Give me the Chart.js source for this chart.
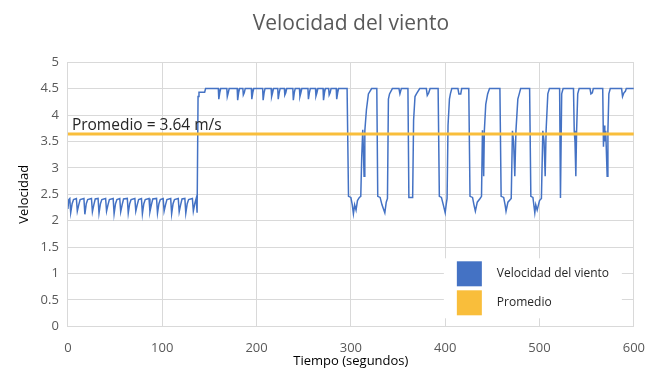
<!DOCTYPE html>
<html lang="es">
<head>
    <meta charset="UTF-8">
    <title>Velocidad del viento</title>
    <script src="https://cdn.jsdelivr.net/npm/chart.js"></script>
    <style>
        html, body { margin: 0; padding: 0; background: #fff; }
        #wrap { width: 659px; height: 369px; }
    </style>
</head>
<body>
<div id="wrap"><canvas id="vientoChart" width="659" height="369"></canvas></div>
<script>
    // tiempo (s) y velocidad (m/s)
    const tiempo = [
        0, 1,
        2, 3, 4.5, 6,   9, 10, 11.5, 13,   17, 18, 19.5, 21,   25, 26, 27.5, 29,
        32, 33, 34.5, 36,   40, 41, 42.5, 44,   48, 49, 50.5, 52,   55, 56, 57.5, 59,
        63, 64, 65.5, 67,   71, 72, 73.5, 75,   78, 79, 80.5, 82,   86, 87, 88.5, 90,
        94, 95, 96.5, 98,   101, 102, 103.5, 105,   109, 110, 111.5, 113,   117, 118, 119.5, 121,
        124, 125, 126.5, 128,   132, 133, 134.5, 136,   137, 138, 139, 145, 146,
        159.5, 160, 161, 162,   168.5, 169, 170, 171,   179.5, 180, 181, 182,   185.5, 186, 187, 188,
        194.5, 195, 196, 197,   206.5, 207, 208, 209,   215.5, 216, 217, 218,   222.5, 223, 224, 225,
        229.5, 230, 231, 232,   238.5, 239, 240, 241,   245.5, 246, 247, 248,   254.5, 255, 256, 257,
        262.5, 263, 264, 265,   270.5, 271, 272, 273,   276.5, 277, 278, 279,   284.5, 285, 286, 287,
        296, 297.5, 300, 301.5, 302.7, 304, 305.5, 307, 309, 310.5, 311.5, 312.6, 313.2, 314, 314.8, 316.5, 318.6, 322,
        327.5, 328.5, 331, 333, 336, 337.5, 338.8, 339.8, 341, 344,
        351, 352, 353.5,
        360.5, 361.5, 365.5, 366.5, 368, 369.5, 373,
        380, 381, 382.5, 384,
        392.5, 393.8, 396, 398, 400, 401, 402, 403, 404.5, 405.5, 407,
        413.5, 414.5, 416.5, 417.5,
        425, 426.3, 429, 430.5, 432, 434, 437, 438.5, 439.5, 440.2, 440.8, 441.5, 443, 445, 447,
        458, 459.3, 462, 463.5, 464.5, 466.5, 470, 471.3, 472.5, 473.8, 475, 477, 478.5, 480,
        489.5, 490.8, 493, 495, 496, 497.5, 500, 502, 503.5, 504.8, 506, 507, 508.8, 510.5,
        521.3, 522.2, 523.5, 525,
        536, 536.8, 537.6, 538.5, 539.3, 540.5, 542,
        553.5, 554.5, 556, 557,
        567, 567.8, 568.5, 569.2, 570.2, 571.7, 572.5, 573.5, 575,
        587, 588, 589.5, 591, 592, 600
    ];
    const velocidad = [
        2.22, 2.4,
        2.42, 2.15, 2.32, 2.4,   2.42, 2.18, 2.3, 2.4,   2.42, 2.12, 2.32, 2.4,   2.42, 2.17, 2.3, 2.41,
        2.42, 2.14, 2.32, 2.4,   2.42, 2.18, 2.3, 2.4,   2.42, 2.13, 2.32, 2.4,   2.42, 2.17, 2.3, 2.41,
        2.42, 2.14, 2.32, 2.4,   2.42, 2.18, 2.3, 2.4,   2.42, 2.13, 2.32, 2.4,   2.42, 2.17, 2.3, 2.41,
        2.42, 2.14, 2.32, 2.4,   2.42, 2.18, 2.3, 2.4,   2.42, 2.13, 2.32, 2.4,   2.42, 2.17, 2.3, 2.41,
        2.42, 2.14, 2.32, 2.4,   2.42, 2.18, 2.32, 2.42,   2.15, 4.35, 4.43, 4.43, 4.5,
        4.5, 4.3, 4.42, 4.5,   4.5, 4.35, 4.42, 4.5,   4.5, 4.28, 4.42, 4.5,   4.5, 4.38, 4.42, 4.5,
        4.5, 4.3, 4.42, 4.5,   4.5, 4.28, 4.42, 4.5,   4.5, 4.35, 4.42, 4.5,   4.5, 4.3, 4.42, 4.5,
        4.5, 4.38, 4.42, 4.5,   4.5, 4.28, 4.42, 4.5,   4.5, 4.35, 4.42, 4.5,   4.5, 4.3, 4.42, 4.5,
        4.5, 4.36, 4.42, 4.5,   4.5, 4.28, 4.42, 4.5,   4.5, 4.38, 4.42, 4.5,   4.5, 4.3, 4.42, 4.5,
        4.5, 2.46, 2.44, 2.3, 2.13, 2.3, 2.2, 2.38, 2.44, 2.46, 3.2, 3.72, 3.4, 2.84, 3.7, 4.1, 4.4, 4.5,
        4.5, 2.46, 2.44, 2.3, 2.15, 2.35, 2.42, 4.3, 4.4, 4.5,
        4.5, 4.4, 4.5,
        4.5, 2.44, 2.44, 3.9, 4.35, 4.4, 4.5,
        4.5, 4.37, 4.42, 4.5,
        4.5, 2.46, 2.44, 2.3, 2.15, 2.3, 2.42, 3.8, 4.3, 4.4, 4.5,
        4.5, 4.4, 4.4, 4.5,
        4.5, 2.46, 2.44, 2.3, 2.18, 2.35, 2.42, 2.46, 3.71, 3.4, 2.84, 3.7, 4.2, 4.4, 4.5,
        4.5, 2.46, 2.44, 2.3, 2.18, 2.35, 2.42, 3.7, 3.5, 2.84, 3.7, 4.3, 4.4, 4.5,
        4.5, 2.46, 2.44, 2.15, 2.3, 2.2, 2.38, 2.42, 3.7, 3.5, 2.84, 3.72, 4.4, 4.5,
        4.5, 2.43, 4.4, 4.5,
        4.5, 3.7, 3.5, 2.84, 3.7, 4.4, 4.5,
        4.5, 4.4, 4.42, 4.5,
        4.5, 3.4, 3.8, 3.5, 3.7, 2.84, 3.7, 4.4, 4.5,
        4.5, 4.35, 4.42, 4.45, 4.5, 4.5
    ];
    const promedioTiempo = [0, 600];
    const promedioValor = [3.64, 3.64];
    const etiquetaPromedio = 'Promedio = 3.64 m/s';

    const azul = '#4472C4';
    const naranja = '#F9BE3B';
    const fuente = '"Open Sans", sans-serif';

    // texto "Promedio = ..." encima de la linea
    const textoPromedio = {
        id: 'textoPromedio',
        afterDatasetsDraw(chart) {
            const c = chart.ctx;
            const x = chart.scales.x.getPixelForValue(promedioTiempo[0]);
            const y = chart.scales.y.getPixelForValue(promedioValor[0]);
            c.save();
            c.font = '15.5px ' + fuente;
            c.fillStyle = '#262626';
            c.textBaseline = 'alphabetic';
            c.fillText(etiquetaPromedio, x + 4, y - 4);
            c.restore();
        }
    };

    // leyenda dentro del area del grafico, abajo a la derecha
    const leyendaDentro = {
        id: 'leyendaDentro',
        afterDraw(chart) {
            const c = chart.ctx;
            const a = chart.chartArea;
            const x0 = a.right - 190, y0 = a.bottom - 68;
            c.save();
            c.fillStyle = '#fff';
            c.fillRect(x0, y0, 178, 60);
            c.font = '12px ' + fuente;
            c.textBaseline = 'middle';
            chart.data.datasets.forEach((ds, i) => {
                const yy = y0 + 3 + i * 29;
                c.fillStyle = ds.borderColor;
                c.fillRect(x0 + 13, yy, 25, 25);
                c.fillStyle = '#262626';
                c.fillText(ds.label, x0 + 53, yy + 12.5);
            });
            c.restore();
        }
    };

    const ctx = document.getElementById('vientoChart').getContext('2d');
    const vientoChart = new Chart(ctx, {
        type: 'line',
        data: {
            datasets: [{
                label: 'Velocidad del viento',
                data: tiempo.map((t, i) => ({ x: t, y: velocidad[i] })),
                borderColor: azul,
                backgroundColor: azul,
                borderWidth: 1.5,
                pointRadius: 0,
                tension: 0,
                fill: false,
                order: 1
            }, {
                label: 'Promedio',
                data: promedioTiempo.map((t, i) => ({ x: t, y: promedioValor[i] })),
                borderColor: naranja,
                backgroundColor: naranja,
                borderWidth: 3,
                pointRadius: 0,
                fill: false,
                order: 0
            }]
        },
        options: {
            responsive: false,
            animation: false,
            layout: { padding: { left: 12, right: 18, top: 0, bottom: 0 } },
            plugins: {
                legend: { display: false },
                tooltip: { enabled: false },
                title: {
                    display: true,
                    fullSize: false,
                    text: 'Velocidad del viento',
                    color: '#595959',
                    font: { family: fuente, size: 21, weight: 'normal' },
                    padding: { top: 11, bottom: 26 }
                }
            },
            scales: {
                x: {
                    type: 'linear',
                    min: 0,
                    max: 600,
                    ticks: { stepSize: 100, color: '#595959', padding: 14, font: { family: fuente, size: 13 } },
                    grid: { color: '#D9D9D9', drawTicks: false },
                    border: { color: '#D9D9D9' },
                    title: {
                        display: true,
                        text: 'Tiempo (segundos)',
                        color: '#000',
                        font: { family: fuente, size: 13 },
                        padding: { top: -16.5, bottom: 0 }
                    }
                },
                y: {
                    min: 0,
                    max: 5,
                    ticks: {
                        stepSize: 0.5, color: '#595959', padding: 9,
                        font: { family: fuente, size: 13 },
                        callback: v => String(Math.round(v * 10) / 10)
                    },
                    grid: { color: '#D9D9D9', drawTicks: false },
                    border: { color: '#D9D9D9' },
                    title: {
                        display: true,
                        text: 'Velocidad',
                        color: '#000',
                        font: { family: fuente, size: 13 },
                        padding: { top: 4, bottom: 0 }
                    }
                }
            }
        },
        plugins: [textoPromedio, leyendaDentro]
    });
</script>
</body>
</html>
